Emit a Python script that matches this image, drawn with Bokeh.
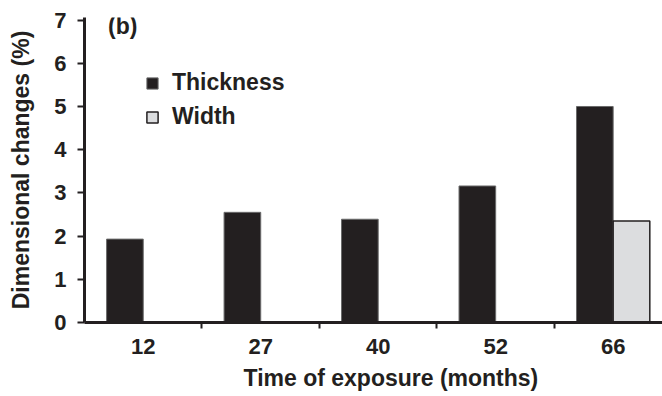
from bokeh.plotting import figure
from bokeh.models import (ColumnDataSource, Range1d, FixedTicker, Legend, LegendItem, Label, Title)
from bokeh.embed import file_html
from bokeh.resources import INLINE

# ---- data ----
months = ["12", "27", "40", "52", "66"]
thickness = [1.93, 2.55, 2.39, 3.16, 5.00]
width_vals = [float("nan"), float("nan"), float("nan"), float("nan"), 2.35]
y_ticks = [0, 1, 2, 3, 4, 5, 6, 7]

pos = list(range(1, len(months) + 1))
dodge = 0.156
bar_w = 0.312

src_t = ColumnDataSource(dict(x=[p_ - dodge for p_ in pos], top=thickness))
src_w = ColumnDataSource(dict(x=[p_ + dodge for p_ in pos], top=width_vals))

FONT = "Liberation Sans"
DARK = "#231f20"

p = figure(width=662, height=396, output_backend="svg", toolbar_location=None,
           x_range=Range1d(0.5, 5.42), y_range=Range1d(0, 7.06),
           min_border_left=84, min_border_right=0, min_border_top=17, min_border_bottom=73)
p.outline_line_color = None
p.xgrid.visible = False
p.ygrid.visible = False
p.background_fill_color = "white"

rt = p.vbar(x="x", top="top", width=bar_w, source=src_t, fill_color=DARK,
            line_color="#6a6a6a", line_width=1)
rw = p.vbar(x="x", top="top", width=bar_w, source=src_w, fill_color="#dcdddf",
            line_color=DARK, line_width=1.5)

# x axis
xa = p.xaxis[0]
xa.ticker = FixedTicker(ticks=pos, minor_ticks=[i + 0.5 for i in pos[:-1]])
xa.major_label_overrides = {i: m for i, m in zip(pos, months)}
xa.major_tick_out = 0
xa.major_tick_in = 0
xa.minor_tick_out = 6
xa.minor_tick_in = 0
xa.minor_tick_line_width = 2
xa.minor_tick_line_color = DARK
xa.axis_line_width = 3
xa.axis_line_color = DARK
xa.major_label_text_font = FONT
xa.major_label_text_font_style = "bold"
xa.major_label_text_font_size = "22px"
xa.major_label_text_color = DARK
xa.major_label_standoff = 10

# y axis
ya = p.yaxis[0]
ya.ticker = FixedTicker(ticks=y_ticks)
ya.major_tick_out = 7
ya.major_tick_in = 0
ya.major_tick_line_width = 2
ya.major_tick_line_color = DARK
ya.minor_tick_out = 0
ya.minor_tick_in = 0
ya.axis_line_width = 3
ya.axis_line_color = DARK
ya.major_label_text_font = FONT
ya.major_label_text_font_style = "bold"
ya.major_label_text_font_size = "22px"
ya.major_label_text_color = DARK
ya.major_label_standoff = 11
ya.axis_label = "Dimensional changes (%)"
ya.axis_label_text_font = FONT
ya.axis_label_text_font_style = "bold"
ya.axis_label_text_font_size = "23px"
ya.axis_label_text_color = DARK
ya.axis_label_standoff = 17

# x axis title (original frame is cropped on the right, so the title sits right of frame centre)
xtitle = Title(text="Time of exposure (months)", align="left", offset=159, standoff=12,
               vertical_align="bottom", text_line_height=0.7,
               text_font=FONT, text_font_style="bold", text_font_size="23px",
               text_color=DARK)
p.add_layout(xtitle, "below")

legend = Legend(items=[LegendItem(label="Thickness", renderers=[rt]),
                       LegendItem(label="Width", renderers=[rw])],
                location=(61, 192), padding=0, margin=0, spacing=7,
                glyph_width=14, glyph_height=14, label_height=26,
                label_standoff=13, border_line_color=None,
                background_fill_alpha=0,
                label_text_font=FONT, label_text_font_style="bold",
                label_text_font_size="23px", label_text_color=DARK)
p.add_layout(legend, "center")

p.add_layout(Label(x=0.70, y=6.87, text="(b)", text_font=FONT, text_font_style="bold",
                   text_font_size="23px", text_color=DARK, text_baseline="middle"))

open("out.html", "w").write(file_html(p, INLINE))
